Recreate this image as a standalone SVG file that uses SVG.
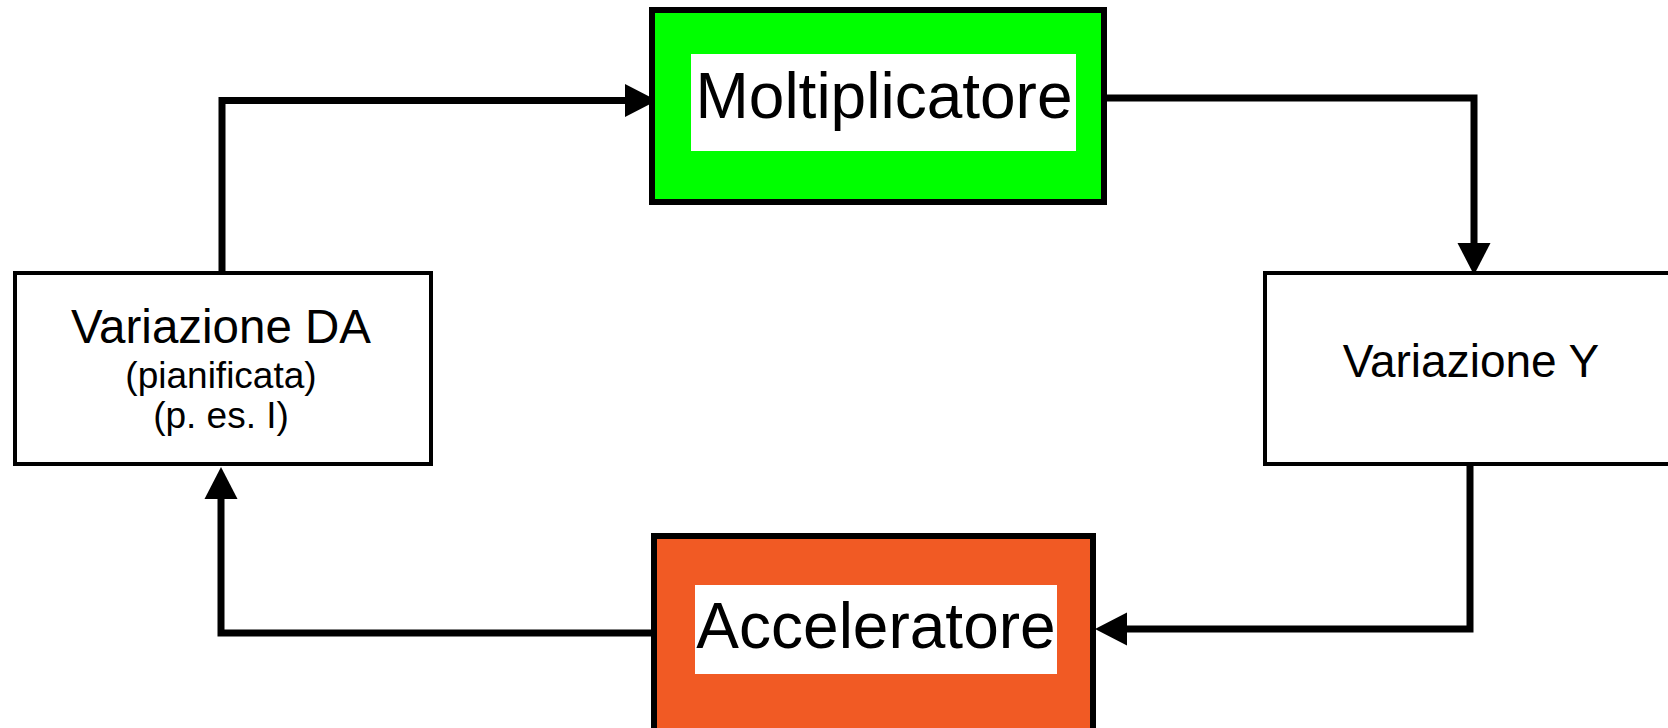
<svg xmlns="http://www.w3.org/2000/svg" width="1668" height="728" viewBox="0 0 1668 728">
  <style>
    .box { stroke: #000; fill: #fff; }
    .thick { stroke-width: 6; }
    .thin { stroke-width: 4; }
    .label { fill: #fff; stroke: none; }
    .t { font-family: "Liberation Sans", Arial, sans-serif; fill: #000; text-anchor: middle; }
    .conn { fill: none; stroke: #000; stroke-width: 7; stroke-linejoin: miter; stroke-linecap: square; }
  </style>
  <defs>
    <marker id="arrow" markerUnits="userSpaceOnUse" markerWidth="34" markerHeight="34" refX="0" refY="16.5" orient="auto" overflow="visible">
      <path d="M0,0 L32,16.5 L0,33 Z" fill="#000"/>
    </marker>
  </defs>
  <rect width="1668" height="728" fill="#fff"/>

  <g id="connectors">
    <path class="conn" d="M222,272 V100.5 H625" marker-end="url(#arrow)"/>
    <path class="conn" d="M1110,98 H1474 V243" marker-end="url(#arrow)"/>
    <path class="conn" d="M1470,465 V629 H1127" marker-end="url(#arrow)"/>
    <path class="conn" d="M658,633 H221 V499" marker-end="url(#arrow)"/>
  </g>

  <g id="moltiplicatore">
    <rect class="box thick" x="652" y="10" width="452" height="192" style="fill:#00ff00"/>
    <rect class="label" x="691" y="54" width="385" height="97"/>
    <text class="t" x="884" y="118" font-size="64">Moltiplicatore</text>
  </g>

  <g id="variazione-y">
    <rect class="box thin" x="1265" y="273" width="412" height="191"/>
    <text class="t" x="1471" y="377" font-size="46">Variazione Y</text>
  </g>

  <g id="acceleratore">
    <rect class="box thick" x="654" y="536" width="439" height="200" style="fill:#f15a24"/>
    <rect class="label" x="695" y="585" width="362" height="89"/>
    <text class="t" x="876" y="648" font-size="64">Acceleratore</text>
  </g>

  <g id="variazione-da">
    <rect class="box thin" x="15" y="273" width="416" height="191"/>
    <text class="t" x="221" y="343" font-size="47.5">Variazione DA</text>
    <text class="t" x="221" y="388" font-size="37">(pianificata)</text>
    <text class="t" x="221" y="428" font-size="37">(p. es. I)</text>
  </g>
</svg>
